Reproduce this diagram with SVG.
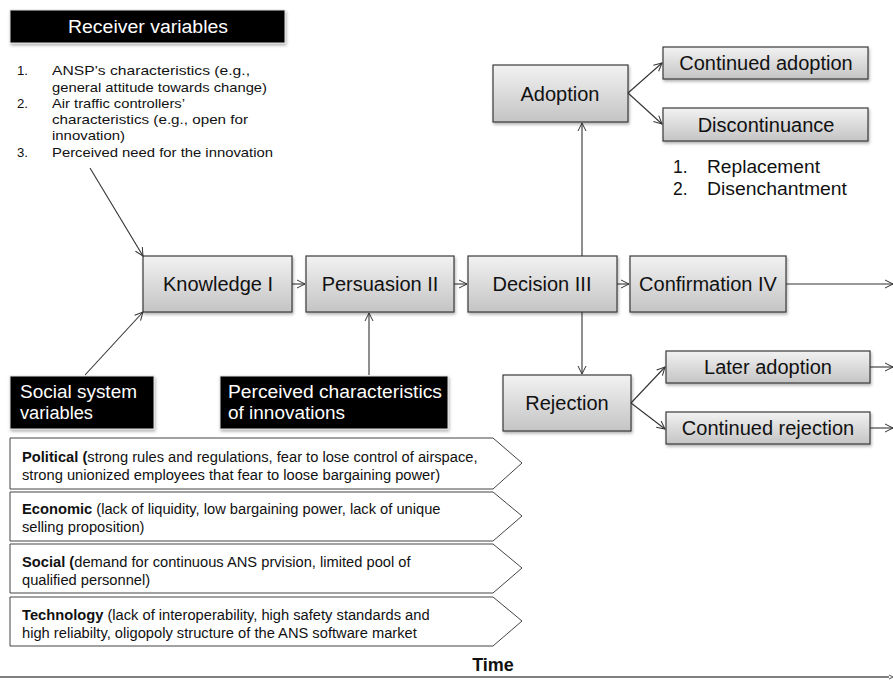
<svg xmlns="http://www.w3.org/2000/svg" width="893" height="681" viewBox="0 0 893 681">
<defs>
<linearGradient id="g" x1="0" y1="0" x2="0" y2="1">
<stop offset="0" stop-color="#f2f2f2"/>
<stop offset="1" stop-color="#c4c4c4"/>
</linearGradient>
<filter id="sh" x="-10%" y="-10%" width="130%" height="140%">
<feDropShadow dx="1" dy="2" stdDeviation="1.5" flood-color="#000" flood-opacity="0.3"/>
</filter>
<marker id="ar" markerWidth="10" markerHeight="10" refX="9" refY="5" orient="auto" markerUnits="userSpaceOnUse">
<path d="M1,1 L9,5 L1,9" fill="none" stroke="#333" stroke-width="1"/>
</marker>
</defs>
<style>
.box{fill:url(#g);stroke:#3a3a3a;stroke-width:1.2;filter:url(#sh)}
.blk{fill:#000;stroke:#ddd;stroke-width:1;filter:url(#sh)}
.lbl{font-family:"Liberation Sans",Arial,sans-serif;font-size:20px;fill:#111;text-anchor:middle}
.wlbl{font-family:"Liberation Sans",Arial,sans-serif;font-size:18px;fill:#fff}
.sm{font-family:"Liberation Sans",Arial,sans-serif;font-size:13.2px;fill:#111}
.ch{font-family:"Liberation Sans",Arial,sans-serif;font-size:14.7px;fill:#111}
.md{font-family:"Liberation Sans",Arial,sans-serif;font-size:17.5px;fill:#111}
.chev{fill:#fff;stroke:#444;stroke-width:1}
.con{fill:none;stroke:#333;stroke-width:1.1;marker-end:url(#ar)}
.b{font-weight:bold}
</style>
<rect width="893" height="681" fill="#fff"/>

<g id="receiver">
<rect class="blk" x="10" y="10" width="275" height="33"/>
<text class="wlbl" x="68" y="33" textLength="160" lengthAdjust="spacingAndGlyphs">Receiver  variables</text>
<text class="sm" x="17" y="75">1.</text><text class="sm" x="52" y="75" textLength="198" lengthAdjust="spacingAndGlyphs">ANSP’s characteristics (e.g.,</text>
<text class="sm" x="52" y="92" textLength="215" lengthAdjust="spacingAndGlyphs">general attitude towards change)</text>
<text class="sm" x="17" y="108">2.</text><text class="sm" x="52" y="108" textLength="133" lengthAdjust="spacingAndGlyphs">Air traffic controllers’</text>
<text class="sm" x="52" y="124" textLength="196" lengthAdjust="spacingAndGlyphs">characteristics (e.g., open for</text>
<text class="sm" x="52" y="140" textLength="73" lengthAdjust="spacingAndGlyphs">innovation)</text>
<text class="sm" x="17" y="157">3.</text><text class="sm" x="52" y="157" textLength="221" lengthAdjust="spacingAndGlyphs">Perceived need for the innovation</text>
</g>

<g id="knowledge"><rect class="box" x="143" y="256" width="149" height="56"/><text class="lbl" x="218" y="291">Knowledge  I</text></g>
<g id="persuasion"><rect class="box" x="306" y="256" width="148" height="56"/><text class="lbl" x="380" y="291">Persuasion  II</text></g>
<g id="decision"><rect class="box" x="468" y="256" width="149" height="56"/><text class="lbl" x="542" y="291">Decision  III</text></g>
<g id="confirmation"><rect class="box" x="630" y="256" width="156" height="56"/><text class="lbl" x="708" y="291">Confirmation  IV</text></g>
<g id="adoption"><rect class="box" x="493" y="65" width="135" height="57"/><text class="lbl" x="560" y="101">Adoption</text></g>
<g id="continued-adoption"><rect class="box" x="663" y="47" width="205" height="32"/><text class="lbl" x="766" y="70">Continued  adoption</text></g>
<g id="discontinuance"><rect class="box" x="663" y="108" width="205" height="33"/><text class="lbl" x="766" y="132">Discontinuance</text>
<text class="md" x="673" y="173">1.</text><text class="md" x="707" y="173" textLength="113" lengthAdjust="spacingAndGlyphs">Replacement</text>
<text class="md" x="673" y="195">2.</text><text class="md" x="707" y="195" textLength="140" lengthAdjust="spacingAndGlyphs">Disenchantment</text></g>
<g id="rejection"><rect class="box" x="503" y="375" width="128" height="56"/><text class="lbl" x="567" y="410">Rejection</text></g>
<g id="later-adoption"><rect class="box" x="666" y="351" width="204" height="32"/><text class="lbl" x="768" y="374">Later  adoption</text></g>
<g id="continued-rejection"><rect class="box" x="666" y="412" width="204" height="32"/><text class="lbl" x="768" y="435">Continued  rejection</text></g>

<g id="social-system"><rect class="blk" x="10" y="376" width="144" height="53"/>
<text class="wlbl" x="20" y="398" textLength="117" lengthAdjust="spacingAndGlyphs">Social  system</text><text class="wlbl" x="20" y="419" textLength="73" lengthAdjust="spacingAndGlyphs">variables</text></g>
<g id="perceived"><rect class="blk" x="220" y="376" width="228" height="53"/>
<text class="wlbl" x="228" y="398" textLength="214" lengthAdjust="spacingAndGlyphs">Perceived  characteristics</text><text class="wlbl" x="228" y="419" textLength="117" lengthAdjust="spacingAndGlyphs">of innovations</text></g>

<g id="political"><path class="chev" d="M10,438 H493 L522,463 L493,489 H10 Z"/>
<text class="ch" x="22" y="462"><tspan class="b">Political (</tspan>strong rules and regulations, fear to lose control of airspace,</text>
<text class="ch" x="22" y="480">strong unionized employees that fear to loose bargaining power)</text></g>
<g id="economic"><path class="chev" d="M10,492 H493 L522,516 L493,541 H10 Z"/>
<text class="ch" x="22" y="514"><tspan class="b">Economic </tspan> (lack of liquidity, low bargaining power, lack of unique</text>
<text class="ch" x="22" y="532">selling proposition)</text></g>
<g id="social"><path class="chev" d="M10,544 H493 L522,568 L493,593 H10 Z"/>
<text class="ch" x="22" y="567"><tspan class="b">Social (</tspan>demand for continuous ANS prvision,  limited pool of</text>
<text class="ch" x="22" y="585">qualified personnel)</text></g>
<g id="technology"><path class="chev" d="M10,597 H493 L522,621 L493,646 H10 Z"/>
<text class="ch" x="22" y="620"><tspan class="b">Technology </tspan> (lack of interoperability, high safety standards and</text>
<text class="ch" x="22" y="638">high reliabilty, oligopoly structure of the ANS software market</text></g>

<g id="time"><text class="b" x="493" y="671" text-anchor="middle" font-family="Liberation Sans, Arial, sans-serif" font-size="18" fill="#111">Time</text></g>

<g id="connectors">
<line class="con" x1="90" y1="168" x2="143" y2="256"/>
<line class="con" x1="85" y1="375" x2="143" y2="312"/>
<line class="con" x1="369" y1="375" x2="369" y2="313"/>
<line class="con" x1="292" y1="284" x2="305" y2="284"/>
<line class="con" x1="454" y1="284" x2="467" y2="284"/>
<line class="con" x1="617" y1="284" x2="629" y2="284"/>
<line class="con" x1="786" y1="284" x2="893" y2="284"/>
<line class="con" x1="582" y1="256" x2="582" y2="123"/>
<line class="con" x1="582" y1="312" x2="582" y2="374"/>
<line class="con" x1="628" y1="93" x2="662" y2="63"/>
<line class="con" x1="628" y1="93" x2="662" y2="124"/>
<line class="con" x1="631" y1="403" x2="665" y2="367"/>
<line class="con" x1="631" y1="403" x2="665" y2="429"/>
<line class="con" x1="870" y1="367" x2="893" y2="367"/>
<line class="con" x1="870" y1="428" x2="893" y2="428"/>
<line x1="0" y1="677" x2="889" y2="677" stroke="#555" stroke-width="1.5"/>
<path d="M889,675 L893,677 L889,679" fill="none" stroke="#555" stroke-width="1"/>
</g>
</svg>
